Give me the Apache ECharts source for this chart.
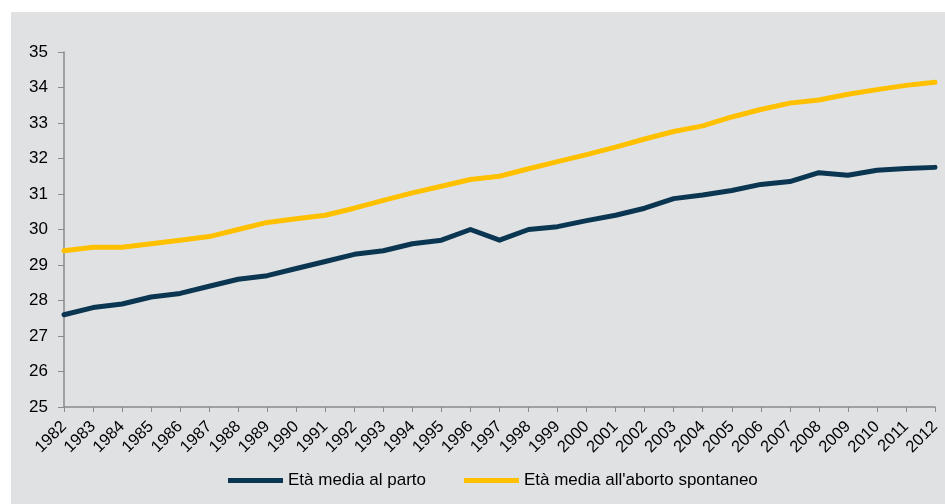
<!DOCTYPE html>
<html>
<head>
<meta charset="utf-8">
<script src="https://cdn.jsdelivr.net/npm/echarts@6/dist/echarts.min.js"></script>
<style>
  html, body { margin: 0; padding: 0; background: #fff; }
  #chart { position: absolute; left: 11px; top: 12px; width: 934px; height: 492px; }
</style>
</head>
<body>
<div id="chart"></div>
<script>
// anni
const years = ['1982', '1983', '1984', '1985', '1986', '1987', '1988', '1989', '1990', '1991',
  '1992', '1993', '1994', '1995', '1996', '1997', '1998', '1999', '2000', '2001',
  '2002', '2003', '2004', '2005', '2006', '2007', '2008', '2009', '2010', '2011', '2012']

// età media al parto
const etaParto = [27.6, 27.8, 27.9, 28.1, 28.2, 28.4, 28.6, 28.7, 28.9, 29.1,
  29.3, 29.4, 29.6, 29.7, 30.0, 29.7, 30.0, 30.08, 30.25, 30.4,
  30.6, 30.87, 30.97, 31.1, 31.27, 31.35, 31.6, 31.53, 31.67, 31.72, 31.75]

// età media all'aborto spontaneo
const etaAborto = [29.4, 29.5, 29.5, 29.6, 29.7, 29.8, 30.0, 30.2, 30.3, 30.4,
  30.6, 30.82, 31.03, 31.22, 31.41, 31.5, 31.71, 31.91, 32.11, 32.32,
  32.55, 32.76, 32.92, 33.17, 33.38, 33.56, 33.65, 33.81, 33.94, 34.06, 34.15]

const seriesNames = ['Età media al parto', "Età media all'aborto spontaneo"]
const seriesColors = ['#0A3651', '#FFC000']

const axisGray = '#8A8A8A'
const font = 'Liberation Sans, Arial, sans-serif'

const option = {
  backgroundColor: '#E0E1E3',
  animation: false,
  textStyle: { fontFamily: font },
  grid: { left: 53, right: 10, top: 40, bottom: 97 },
  legend: {
    left: 212,
    top: 455,
    icon: 'rect',
    itemWidth: 55,
    itemHeight: 5,
    itemGap: 38,
    textStyle: { fontSize: 17, color: '#000', fontFamily: font },
    data: seriesNames
  },
  xAxis: {
    type: 'category',
    data: years,
    boundaryGap: false,
    axisLine: { lineStyle: { color: axisGray, width: 1.5 } },
    axisTick: { show: true, length: 5, lineStyle: { color: axisGray }, alignWithLabel: true },
    axisLabel: { rotate: 45, interval: 0, fontSize: 16.5, color: '#000', margin: 17, fontFamily: font },
    splitLine: { show: false }
  },
  yAxis: {
    type: 'value',
    min: 25,
    max: 35,
    interval: 1,
    axisLine: { show: true, lineStyle: { color: axisGray, width: 1.5 } },
    axisTick: { show: true, length: 6, lineStyle: { color: axisGray } },
    axisLabel: { fontSize: 17, color: '#000', margin: 16, fontFamily: font },
    splitLine: { show: false }
  },
  series: [
    {
      name: seriesNames[0],
      type: 'line',
      data: etaParto,
      symbol: 'none',
      color: seriesColors[0],
      lineStyle: { width: 5, color: seriesColors[0], cap: 'round', join: 'round' }
    },
    {
      name: seriesNames[1],
      type: 'line',
      data: etaAborto,
      symbol: 'none',
      color: seriesColors[1],
      lineStyle: { width: 5, color: seriesColors[1], cap: 'round', join: 'round' }
    }
  ]
}

const chart = echarts.init(document.getElementById('chart'))
chart.setOption(option)
</script>
</body>
</html>
